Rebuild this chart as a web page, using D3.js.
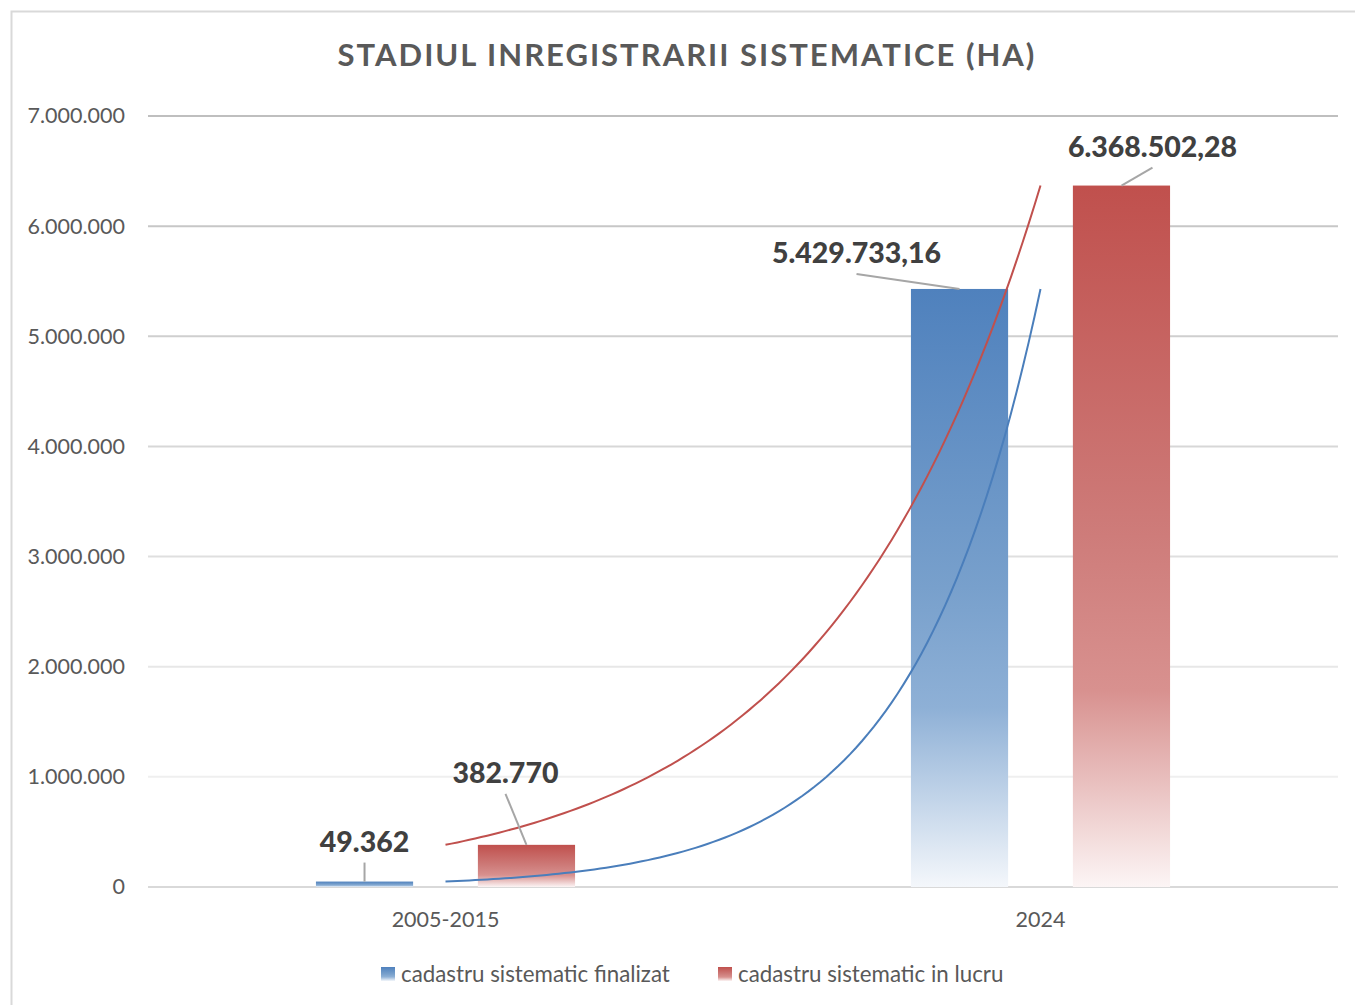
<!DOCTYPE html>
<html>
<head>
<meta charset="utf-8">
<script src="https://cdn.jsdelivr.net/npm/d3@7"></script>
<style>
  body { margin: 0; background: #fff; }
  text { font-family: Lato, "Open Sans", sans-serif; }
</style>
</head>
<body>
<svg id="chart" width="1355" height="1005"></svg>
<script>
// data
const categories = ['2005-2015', '2024'];
const seriesNames = ['cadastru sistematic finalizat', 'cadastru sistematic in lucru'];
const finalizat = [49362, 5429733.16];
const inLucru = [382770, 6368502.28];
const yTicks = [0, 1000000, 2000000, 3000000, 4000000, 5000000, 6000000, 7000000];

const title = 'STADIUL INREGISTRARII SISTEMATICE (HA)';

// label placement relative to top centre of each bar: [dx, dy of baseline]
const labelOffsets = [
  [[0, -30], [-21, -62]],
  [[-103, -26], [31, -29]]
];

const margin = { top: 116, right: 17, bottom: 118, left: 148 };
const W = 1355, H = 1005;
const width = W - margin.left - margin.right;
const height = H - margin.top - margin.bottom;

const ro = d3.formatLocale({ decimal: ',', thousands: '.', grouping: [3], currency: ['', ''] });
const tickFmt = ro.format(',.0f');
const labelFmt = ro.format(',.2~f');

const gradStops = [
  [[0, '#4f81bd'], [0.5, '#78a0cc'], [0.7, '#8eb0d6'], [1, '#f4f7fb']],
  [[0, '#c0504d'], [0.5, '#ce7c7a'], [0.72, '#d8918f'], [1, '#fcf5f5']]
];

const svg = d3.select('#chart');

// gradients
const defs = svg.append('defs');
gradStops.forEach((stops, i) => {
  defs.append('linearGradient')
      .attr('id', 'grad' + i)
      .attr('x1', 0).attr('y1', 0).attr('x2', 0).attr('y2', 1)
    .selectAll('stop')
    .data(stops)
    .join('stop')
      .attr('offset', d => d[0])
      .attr('stop-color', d => d[1]);
});

// outer border
svg.append('rect')
    .attr('x', 11.5).attr('y', 11.5)
    .attr('width', W + 20).attr('height', H + 20)
    .attr('fill', 'none')
    .attr('stroke', '#d9d9d9')
    .attr('stroke-width', 2);

svg.append('text')
    .attr('x', 687)
    .attr('y', 66)
    .attr('text-anchor', 'middle')
    .attr('fill', '#595959')
    .attr('font-size', 31)
    .attr('font-weight', 'bold')
    .attr('letter-spacing', 2.0)
    .text(title);

const g = svg.append('g')
    .attr('transform', `translate(${margin.left},${margin.top})`);

// scales
const x0 = d3.scaleBand()
    .domain(categories)
    .range([0, width]);

const x1 = d3.scaleBand()
    .domain(seriesNames)
    .range([0, x0.bandwidth()])
    .paddingInner(0.4)
    .paddingOuter(1.037);

const y = d3.scaleLinear()
    .domain([0, 7000000])
    .range([height, 0]);

// grid
const gridColor = d3.scaleLinear()
    .domain([1000000, 7000000])
    .range(['#efefef', '#bfbfbf']);

g.append('g')
    .attr('class', 'grid')
  .selectAll('line')
  .data(yTicks.filter(d => d > 0))
  .join('line')
    .attr('x1', 0)
    .attr('x2', width)
    .attr('y1', d => y(d))
    .attr('y2', d => y(d))
    .attr('stroke', d => gridColor(d))
    .attr('stroke-width', 2);

// y axis
g.append('g')
    .attr('class', 'y axis')
    .call(d3.axisLeft(y).tickValues(yTicks).tickFormat(tickFmt).tickSize(0).tickPadding(23))
    .call(a => a.select('.domain').remove())
    .call(a => a.selectAll('text')
        .attr('fill', '#595959')
        .attr('font-size', 21.5)
        .attr('font-family', 'Lato, sans-serif'));

// baseline
g.append('line')
    .attr('x1', 0).attr('x2', width)
    .attr('y1', y(0)).attr('y2', y(0))
    .attr('stroke', '#d9d9d9')
    .attr('stroke-width', 2);

// x axis labels
g.append('g')
    .attr('class', 'x axis')
    .attr('transform', `translate(0,${height})`)
    .call(d3.axisBottom(x0).tickSize(0).tickPadding(25))
    .call(a => a.select('.domain').remove())
    .call(a => a.selectAll('text')
        .attr('fill', '#595959')
        .attr('font-size', 21.5)
        .attr('font-family', 'Lato, sans-serif'));

// bars
const rows = categories.map((c, i) => ({
  cat: c,
  values: [finalizat[i], inLucru[i]].map((v, j) => ({ cat: c, ci: i, si: j, name: seriesNames[j], value: v }))
}));

const groups = g.append('g')
    .attr('class', 'bars')
  .selectAll('g')
  .data(rows)
  .join('g')
    .attr('transform', d => `translate(${x0(d.cat)},0)`);

groups.selectAll('rect')
  .data(d => d.values)
  .join('rect')
    .attr('x', d => x1(d.name))
    .attr('width', x1.bandwidth())
    .attr('y', d => y(d.value))
    .attr('height', d => y(0) - y(d.value))
    .attr('fill', d => `url(#grad${d.si})`);

// exponential trendlines through each series (fitted on category index 1..n)
const xc = d3.scaleLinear()
    .domain([1, categories.length])
    .range([x0(categories[0]) + x0.bandwidth() / 2, x0(categories[categories.length - 1]) + x0.bandwidth() / 2]);

function expFit(vals) {
  const xs = vals.map((v, i) => i + 1);
  const ly = vals.map(v => Math.log(v));
  const mx = d3.mean(xs), my = d3.mean(ly);
  const b = d3.sum(xs, (xv, i) => (xv - mx) * (ly[i] - my)) / d3.sum(xs, xv => (xv - mx) ** 2);
  const a = Math.exp(my - b * mx);
  return t => a * Math.exp(b * t);
}

const trendLine = d3.line()
    .x(d => xc(d[0]))
    .y(d => y(d[1]));

[inLucru, finalizat].forEach((vals, k) => {
  const f = expFit(vals);
  const pts = d3.range(1, categories.length + 0.001, 0.01).map(t => [t, f(t)]);
  g.append('path')
      .datum(pts)
      .attr('d', trendLine)
      .attr('fill', 'none')
      .attr('stroke', k === 0 ? '#c0504d' : '#4a7ebb')
      .attr('stroke-width', 2);
});

// data labels with leader lines
const labels = g.append('g')
    .attr('class', 'labels')
  .selectAll('g')
  .data(rows.flatMap(r => r.values))
  .join('g')
    .attr('transform', d => `translate(${x0(d.cat) + x1(d.name) + x1.bandwidth() / 2},${y(d.value)})`);

labels.append('line')
    .attr('x1', d => labelOffsets[d.ci][d.si][0])
    .attr('y1', d => labelOffsets[d.ci][d.si][1] + 11)
    .attr('x2', 0)
    .attr('y2', 0)
    .attr('stroke', '#a6a6a6')
    .attr('stroke-width', 2);

labels.append('text')
    .attr('x', d => labelOffsets[d.ci][d.si][0])
    .attr('y', d => labelOffsets[d.ci][d.si][1])
    .attr('text-anchor', 'middle')
    .attr('fill', '#404040')
    .attr('font-size', 28.5)
    .attr('font-weight', 900)
    .text(d => labelFmt(d.value));

// legend
const legendX = [381, 718];
const legend = svg.append('g')
    .attr('class', 'legend')
  .selectAll('g')
  .data(seriesNames)
  .join('g')
    .attr('transform', (d, i) => `translate(${legendX[i]},967)`);

legend.append('rect')
    .attr('width', 14)
    .attr('height', 14)
    .attr('fill', (d, i) => `url(#grad${i})`);

legend.append('text')
    .attr('x', 20)
    .attr('y', 15)
    .attr('fill', '#595959')
    .attr('font-size', 22.3)
    .text(d => d);
</script>
</body>
</html>
